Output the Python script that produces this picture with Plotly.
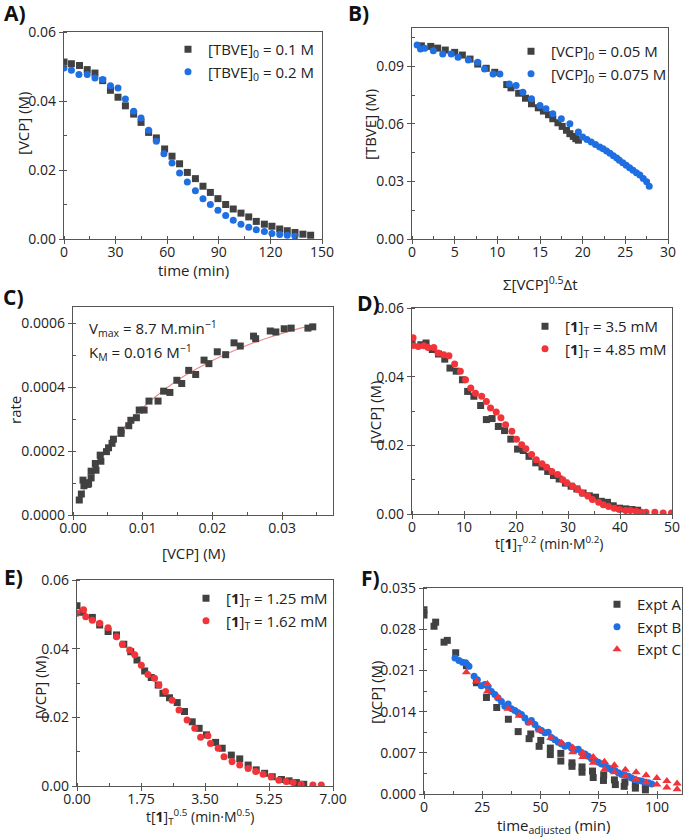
import plotly.graph_objects as go

W, H = 686, 837

# ---------------- DATA ----------------
# Panel A
a_time_01 = [0, 4.3, 9, 13.5, 18, 22.5, 27, 31.4, 35.7, 40.5, 44.8, 49.2, 53.7, 58.5, 62.8, 67.2, 71.7, 76.4,
             80.8, 85.1, 89.5, 94, 98.4, 102.9, 107.4, 111.8, 116.5, 120.9, 125.4, 129.8, 134.3, 138.9, 143.4]
a_vcp_01 = [0.0513, 0.0508, 0.0503, 0.0491, 0.0481, 0.0459, 0.0431, 0.0411, 0.0386, 0.0362, 0.0338, 0.0309,
            0.0293, 0.0261, 0.0240, 0.0218, 0.0193, 0.0175, 0.0153, 0.0135, 0.0117, 0.0100, 0.0087, 0.0075,
            0.0064, 0.0051, 0.0043, 0.0037, 0.0029, 0.0024, 0.0019, 0.0014, 0.0011]
a_time_02 = [0, 4.3, 8.7, 13.5, 18, 22.5, 27, 31.4, 35.7, 40.5, 44.8, 49.2, 53.7, 58.1, 62.8, 67.2, 71.7, 76.4,
             80.8, 85.1, 89.5, 94, 98.4, 102.9, 107.4, 111.8, 116.5, 120.9, 125.4, 129.8, 134.3]
a_vcp_02 = [0.0496, 0.0489, 0.0477, 0.0477, 0.0467, 0.0462, 0.0444, 0.0438, 0.0406, 0.0370, 0.0351, 0.0315,
            0.0283, 0.0247, 0.0220, 0.0191, 0.0165, 0.0140, 0.0117, 0.0100, 0.0083, 0.0068, 0.0054, 0.0043,
            0.0034, 0.0027, 0.0022, 0.0016, 0.0013, 0.0011, 0.0008]

# Panel B
b_x_005 = [1.1, 2.2, 3.0, 3.9, 5.0, 5.9, 6.8, 7.7, 8.7, 9.7, 11.1, 11.6, 12.5, 13.3, 14.0, 14.8, 15.4, 16.0,
           16.5, 17.1, 17.6, 18.1, 18.5, 18.9, 19.2, 19.5]
b_tbve_005 = [0.1007, 0.1004, 0.0995, 0.0985, 0.0973, 0.0959, 0.0938, 0.0912, 0.0890, 0.0869, 0.0805, 0.0788,
              0.0760, 0.0734, 0.0705, 0.0684, 0.0667, 0.0648, 0.0627, 0.0606, 0.0587, 0.0567, 0.0549, 0.0535,
              0.0523, 0.0515]
b_x_0075 = [0.6, 1.0, 1.5, 2.5, 3.6, 4.6, 5.4, 6.6, 7.7, 8.5, 9.5, 10.3, 11.4, 12.2, 13.0, 14.0, 15.0, 15.7,
            16.5, 17.5, 18.5, 19.5, 20.0, 20.5, 21.0, 21.5, 22.0, 22.4, 22.8, 23.2, 23.6, 24.0, 24.3, 24.7,
            25.1, 25.5, 25.9, 26.3, 26.7, 27.1, 27.5, 27.8]
b_tbve_0075 = [0.1011, 0.0990, 0.0995, 0.0981, 0.0964, 0.0964, 0.0947, 0.0933, 0.0921, 0.0886, 0.0860, 0.0860,
               0.0808, 0.0800, 0.0765, 0.0731, 0.0696, 0.0679, 0.0653, 0.0627, 0.0601, 0.0558, 0.0532, 0.0519,
               0.0506, 0.0493, 0.0480, 0.0470, 0.0459, 0.0447, 0.0434, 0.0422, 0.0411, 0.0398, 0.0385, 0.0372,
               0.0359, 0.0346, 0.0333, 0.0316, 0.0299, 0.0275]

# Panel C
c_vcp = [0.0009, 0.0012, 0.00143, 0.00157, 0.0018, 0.0021, 0.00224, 0.0026, 0.0026, 0.0032, 0.0033, 0.0039,
         0.0040, 0.0048, 0.0051, 0.0056, 0.0058, 0.0069, 0.0069, 0.0080, 0.0083, 0.0091, 0.0095, 0.0102,
         0.0109, 0.0122, 0.0130, 0.0139, 0.0149, 0.0156, 0.0166, 0.0176, 0.0188, 0.0195, 0.0207, 0.0219,
         0.0231, 0.0240, 0.0259, 0.0262, 0.0283, 0.0291, 0.0303, 0.0313, 0.0337, 0.0344]
c_rate = [0.0000468, 0.0000655, 0.000109, 0.0000915, 0.000101, 0.0000957, 0.0000977, 0.000137, 0.000116,
          0.000161, 0.000140, 0.000187, 0.000168, 0.000198, 0.000210, 0.000224, 0.000237, 0.000265, 0.000255,
          0.000279, 0.000296, 0.000304, 0.000328, 0.000328, 0.000356, 0.000356, 0.000387, 0.000383, 0.000421,
          0.000411, 0.000452, 0.000439, 0.000484, 0.000473, 0.000510, 0.000501, 0.000538, 0.000528, 0.000559,
          0.000551, 0.000575, 0.000572, 0.000582, 0.000584, 0.000584, 0.000588]
c_fit_x = [0.0009, 0.002, 0.004, 0.006, 0.008, 0.010, 0.013, 0.016, 0.020, 0.024, 0.028, 0.032, 0.0345]
c_fit_y = [0.0000463, 0.0000967, 0.000174, 0.000237, 0.000290, 0.000335, 0.000390, 0.000435, 0.000483,
           0.000522, 0.000554, 0.000580, 0.000594]

# Panel D
d_x_35 = [0, 1.7, 2.7, 3.9, 5.1, 6.3, 7.3, 8.5, 9.7, 10.7, 11.9, 13.2, 14.3, 15.4, 16.6, 17.8, 19.0, 20.3,
          21.4, 22.5, 23.8, 25.0, 26.1, 27.2, 28.3, 29.5, 30.6, 31.7, 32.9, 34.1, 35.3, 36.4, 37.6, 38.7,
          39.9, 41.1, 42.3, 43.4]
d_vcp_35 = [0.0498, 0.0493, 0.0498, 0.0479, 0.0466, 0.0451, 0.0425, 0.0416, 0.0391, 0.0357, 0.0343, 0.0316,
            0.0275, 0.0278, 0.0255, 0.0243, 0.0218, 0.0189, 0.0185, 0.0168, 0.0149, 0.0137, 0.0124, 0.0112,
            0.0102, 0.0090, 0.0081, 0.0073, 0.0061, 0.0053, 0.0049, 0.0037, 0.0034, 0.0024, 0.0017, 0.0015,
            0.0013, 0.0011]
d_x_485 = [0.2, 0.2, 1.2, 2.3, 3.1, 4.2, 5.0, 6.1, 7.1, 8.2, 9.3, 10.3, 11.3, 12.2, 13.4, 14.3, 15.1, 16.2,
           17.1, 18.0, 19.2, 20.1, 21.1, 21.9, 23.0, 23.9, 25.0, 25.9, 26.9, 28.0, 29.0, 29.8, 30.9, 31.9,
           32.7, 33.8, 34.7, 35.9, 36.8, 37.8, 38.9, 39.9, 41.1, 42.0, 43.1, 44.1, 45.0, 46.7, 48.3, 49.9]
d_vcp_485 = [0.0513, 0.0491, 0.0488, 0.0490, 0.0485, 0.0485, 0.0469, 0.0464, 0.0461, 0.0437, 0.0416, 0.0391,
             0.0367, 0.0352, 0.0343, 0.0328, 0.0309, 0.0297, 0.0280, 0.0260, 0.0241, 0.0218, 0.0202, 0.0190,
             0.0173, 0.0158, 0.0146, 0.0136, 0.0124, 0.0115, 0.0100, 0.0090, 0.0081, 0.0071, 0.0061, 0.0053,
             0.0042, 0.0034, 0.0027, 0.0022, 0.0017, 0.0013, 0.0010, 0.0010, 0.0008, 0.0005, 0.0005, 0.0005,
             0.0003, 0.0003]

# Panel E
e_x_125 = [0, 0.16, 0.42, 0.62, 0.85, 1.08, 1.28, 1.47, 1.64, 1.85, 2.03, 2.22, 2.35, 2.53, 2.74, 2.94, 3.15,
           3.34, 3.54, 3.79, 3.97, 4.22, 4.45, 4.68, 4.90, 5.13, 5.34, 5.59, 5.80, 6.00, 6.20]
e_vcp_125 = [0.0525, 0.0506, 0.0491, 0.0469, 0.0450, 0.0440, 0.0413, 0.0391, 0.0367, 0.0335, 0.0316, 0.0294,
             0.0270, 0.0257, 0.0243, 0.0217, 0.0187, 0.0168, 0.0149, 0.0127, 0.0110, 0.0090, 0.0079, 0.0061,
             0.0047, 0.0037, 0.0027, 0.0019, 0.0015, 0.0010, 0.0005]
e_x_162 = [0, 0.18, 0.24, 0.42, 0.62, 0.85, 1.08, 1.24, 1.44, 1.58, 1.76, 1.94, 2.12, 2.24, 2.42, 2.60, 2.79,
           3.01, 3.22, 3.38, 3.58, 3.65, 3.86, 4.02, 4.24, 4.45, 4.68, 4.89, 5.09, 5.31, 5.52, 5.72, 5.91,
           6.13, 6.45, 6.68]
e_vcp_162 = [0.0503, 0.0513, 0.0493, 0.0483, 0.0474, 0.0461, 0.0435, 0.0413, 0.0396, 0.0382, 0.0352, 0.0325,
             0.0314, 0.0294, 0.0275, 0.0250, 0.0221, 0.0192, 0.0168, 0.0142, 0.0146, 0.0124, 0.0110, 0.0085,
             0.0071, 0.0061, 0.0051, 0.0042, 0.0034, 0.0027, 0.0017, 0.0013, 0.0010, 0.0005, 0.0003, 0.0003]

# Panel F
f_time_a = [0, 0, 4.3, 5.0, 8.6, 10.0, 13.6, 18.2, 22.5, 26.8, 31.2, 36.2, 40.4, 45.1, 45.8, 49.4, 50.1, 54.2,
            54.2, 58.7, 58.7, 63.5, 63.5, 67.8, 67.8, 72.3, 72.6, 77.1, 77.0, 81.7, 82.1, 86.2, 85.9, 90.7,
            90.7, 95.0, 95.0]
f_vcp_a = [0.0313, 0.0304, 0.0285, 0.0292, 0.0258, 0.0261, 0.0240, 0.0218, 0.0189, 0.0164, 0.0147, 0.0127,
           0.0106, 0.0094, 0.0102, 0.0081, 0.0091, 0.0078, 0.0067, 0.0069, 0.0056, 0.0053, 0.0047, 0.0046,
           0.0037, 0.0039, 0.0028, 0.0032, 0.0023, 0.0024, 0.0016, 0.0020, 0.0013, 0.0016, 0.0010, 0.0012,
           0.0007]
f_time_b = [13.3, 15.0, 16.5, 17.9, 19.3, 21.5, 22.9, 24.6, 26.1, 27.5, 28.9, 30.4, 31.8, 33.2, 34.7, 36.1,
            37.5, 39.0, 40.4, 41.8, 43.3, 44.7, 46.1, 47.6, 49.0, 50.4, 51.9, 53.3, 54.7, 56.2, 57.6, 59.0,
            60.5, 61.9, 63.3, 64.8, 66.2, 67.6, 69.1, 70.5, 71.9, 73.4, 74.8, 76.2, 77.7, 79.1, 80.5, 81.9,
            83.4, 84.8, 86.2, 87.7, 89.1, 90.5, 92.0, 93.4, 94.8, 96.3, 97.7]
f_vcp_b = [0.0231, 0.0227, 0.0224, 0.0223, 0.0217, 0.0200, 0.0194, 0.0184, 0.0186, 0.0182, 0.0174, 0.0169,
           0.0163, 0.0157, 0.0149, 0.0153, 0.0145, 0.0142, 0.0138, 0.0135, 0.0129, 0.0122, 0.0125, 0.0118,
           0.0111, 0.0108, 0.0104, 0.0105, 0.0096, 0.0092, 0.0088, 0.0085, 0.0081, 0.0083, 0.0078, 0.0075,
           0.0076, 0.0070, 0.0068, 0.0064, 0.0060, 0.0057, 0.0054, 0.0051, 0.0049, 0.0044, 0.0041, 0.0040,
           0.0036, 0.0033, 0.0032, 0.0030, 0.0027, 0.0024, 0.0023, 0.0022, 0.0020, 0.0019, 0.0017]
f_time_c = [18.2, 22.5, 27.2, 27.2, 31.8, 36.1, 40.8, 45.4, 49.7, 54.4, 59.0, 63.8, 63.8, 68.1, 68.1, 72.6,
            72.6, 77.4, 77.4, 81.7, 81.7, 86.4, 86.4, 91.0, 91.0, 95.3, 95.3, 99.9, 99.9, 104.2, 104.2,
            108.6, 108.6]
f_vcp_c = [0.0207, 0.0191, 0.0187, 0.0174, 0.0164, 0.0145, 0.0133, 0.0121, 0.0108, 0.0095, 0.0087, 0.0079,
           0.0071, 0.0070, 0.0063, 0.0063, 0.0053, 0.0055, 0.0041, 0.0049, 0.0037, 0.0041, 0.0030, 0.0037,
           0.0025, 0.0032, 0.0020, 0.0027, 0.0016, 0.0022, 0.0011, 0.0018, 0.0008]

# ---------------- STYLE ----------------
FONT = "Open Sans"
GREY = "#414141"
BLUE = "#1f6fe3"
RED = "#f2343a"
AXC = "#555555"


def px(x):
    return x / W


def py(y):
    return 1 - y / H


fig = go.Figure()

panels = {
    # id: (x0, x1, ytop, ybot, xrange, xdtick, xfmt, xminor, yrange, ydtick, yfmt, yminor)
    1: (64, 322, 32, 239, [0, 150], 30, "", 15, [0, 0.06], 0.02, ".2f", 0.01),
    2: (412, 668, 28, 239, [0, 30], 5, "", 2.5, [0, 0.11], 0.03, ".2f", 0.015),
    3: (73, 333, 307, 515, [0, 0.0373], 0.01, ".2f", 0.005, [0, 0.00065], 0.0002, ".4f", 0.0001),
    4: (412, 672, 308, 514, [0, 50], 10, "", 5, [0, 0.06], 0.02, ".2f", 0.01),
    5: (77, 333, 580, 786, [0, 7], 1.75, ".2f", 0.875, [0, 0.06], 0.02, ".2f", 0.01),
    6: (424, 682, 588, 794, [0, 110.7], 25, "", 12.5, [0, 0.035], 0.007, ".3f", 0.0035),
}

layout_axes = {}
for i, (x0, x1, yt, yb, xr, xd, xf, xm, yr, yd, yf, ym) in panels.items():
    sfx = "" if i == 1 else str(i)
    common = dict(showline=True, linecolor=AXC, linewidth=1.3, mirror=True, showgrid=False, zeroline=False,
                  ticks="outside", ticklen=4, tickwidth=1.2, tickcolor=AXC, automargin=False,
                  tickfont=dict(family=FONT, size=14, color="#222"))
    layout_axes["xaxis" + sfx] = dict(domain=[px(x0), px(x1)], anchor="y" + sfx, range=xr, tick0=0, dtick=xd,
                                      tickformat=xf, ticklabelstandoff=-4,
                                      minor=dict(ticks="inside", ticklen=3, dtick=xm, tick0=0, tickcolor=AXC),
                                      **common)
    layout_axes["yaxis" + sfx] = dict(domain=[py(yb), py(yt)], anchor="x" + sfx, range=yr, tick0=0, dtick=yd,
                                      tickformat=yf,
                                      minor=dict(ticks="inside", ticklen=3, dtick=ym, tick0=0, tickcolor=AXC),
                                      **common)


def sc(x, y, name, color, symbol, axis, legend, size=7, show=True):
    sfx = "" if axis == 1 else str(axis)
    fig.add_trace(go.Scatter(x=x, y=y, mode="markers", name=name, xaxis="x" + sfx, yaxis="y" + sfx,
                             marker=dict(color=color, symbol=symbol, size=size, line=dict(width=0)),
                             legend=legend, showlegend=show))


sc(a_time_01, a_vcp_01, "[TBVE]<sub>0</sub> = 0.1 M", GREY, "square", 1, "legend")
sc(a_time_02, a_vcp_02, "[TBVE]<sub>0</sub> = 0.2 M", BLUE, "circle", 1, "legend")
sc(b_x_005, b_tbve_005, "[VCP]<sub>0</sub> = 0.05 M", GREY, "square", 2, "legend2")
sc(b_x_0075, b_tbve_0075, "[VCP]<sub>0</sub> = 0.075 M", BLUE, "circle", 2, "legend2")
fig.add_trace(go.Scatter(x=c_fit_x, y=c_fit_y, mode="lines", line=dict(color="#ef8a8a", width=1.2, shape="spline"),
                         xaxis="x3", yaxis="y3", showlegend=False))
sc(c_vcp, c_rate, "rate", GREY, "square", 3, "legend", show=False)
sc(d_x_35, d_vcp_35, "[<b>1</b>]<sub>T</sub> = 3.5 mM", GREY, "square", 4, "legend4")
sc(d_x_485, d_vcp_485, "[<b>1</b>]<sub>T</sub> = 4.85 mM", RED, "circle", 4, "legend4")
sc(e_x_125, e_vcp_125, "[<b>1</b>]<sub>T</sub> = 1.25 mM", GREY, "square", 5, "legend5")
sc(e_x_162, e_vcp_162, "[<b>1</b>]<sub>T</sub> = 1.62 mM", RED, "circle", 5, "legend5")
sc(f_time_a, f_vcp_a, "Expt A", GREY, "square", 6, "legend6")
sc(f_time_b, f_vcp_b, "Expt B", BLUE, "circle", 6, "legend6")
sc(f_time_c, f_vcp_c, "Expt C", RED, "triangle-up", 6, "legend6", size=8)

leg_common = dict(bgcolor="rgba(0,0,0,0)", font=dict(family=FONT, size=15, color="#222"),
                  xanchor="left", yanchor="top", itemwidth=30, tracegroupgap=0)
legend_pos = {"legend": (168, 33), "legend2": (511, 35), "legend4": (525, 310),
              "legend5": (186, 582), "legend6": (597, 588)}
for k, (lx, ly) in legend_pos.items():
    layout_axes[k] = dict(x=px(lx), y=py(ly), **leg_common)

ann = []


def text(x, y, s, size=15, angle=0, bold=False, xanchor="center"):
    ann.append(dict(x=px(x), y=py(y), xref="paper", yref="paper", text=s, showarrow=False, textangle=angle,
                    xanchor=xanchor, yanchor="middle",
                    font=dict(family=FONT, size=size, color="#111" if bold else "#222")))


# panel labels
for lab, lx, ly in [("A)", 15, 13), ("B)", 358, 13), ("C)", 13, 297), ("D)", 368, 303), ("E)", 13, 577),
                    ("F)", 370, 578)]:
    text(lx, ly, "<b>" + lab + "</b>", size=21, bold=True)

# axis titles
text(193, 270, "time (min)")
text(23, 124, "[VCP] (M)", angle=-90)
text(540, 284, "Σ[VCP]<sup>0.5</sup>Δt")
text(370, 125, "[TBVE] (M)", angle=-90)
text(193, 553, "[VCP] (M)")
text(15, 410, "rate", angle=-90)
text(549, 544, "t[<b>1</b>]<sub>T</sub><sup>0.2</sup> (min·M<sup>0.2</sup>)", size=14)
text(375, 413, "[VCP] (M)", angle=-90)
text(200, 817, "t[<b>1</b>]<sub>T</sub><sup>0.5</sup> (min·M<sup>0.5</sup>)", size=14)
text(40, 688, "[VCP] (M)", angle=-90)
text(554, 826, "time<sub>adjusted</sub> (min)")
text(376, 692, "[VCP] (M)", angle=-90)

# Panel C parameters
text(87, 328, "V<sub>max</sub> = 8.7 M.min<sup>−1</sup>", xanchor="left")
text(87, 353, "K<sub>M</sub> = 0.016 M<sup>−1</sup>", xanchor="left")

fig.update_layout(width=W, height=H, margin=dict(l=0, r=0, t=0, b=0, autoexpand=False), paper_bgcolor="white",
                  plot_bgcolor="white", annotations=ann, font=dict(family=FONT), **layout_axes)

fig.write_html("out.html", post_script="document.body.style.margin='0';",
               config={"displayModeBar": False})
